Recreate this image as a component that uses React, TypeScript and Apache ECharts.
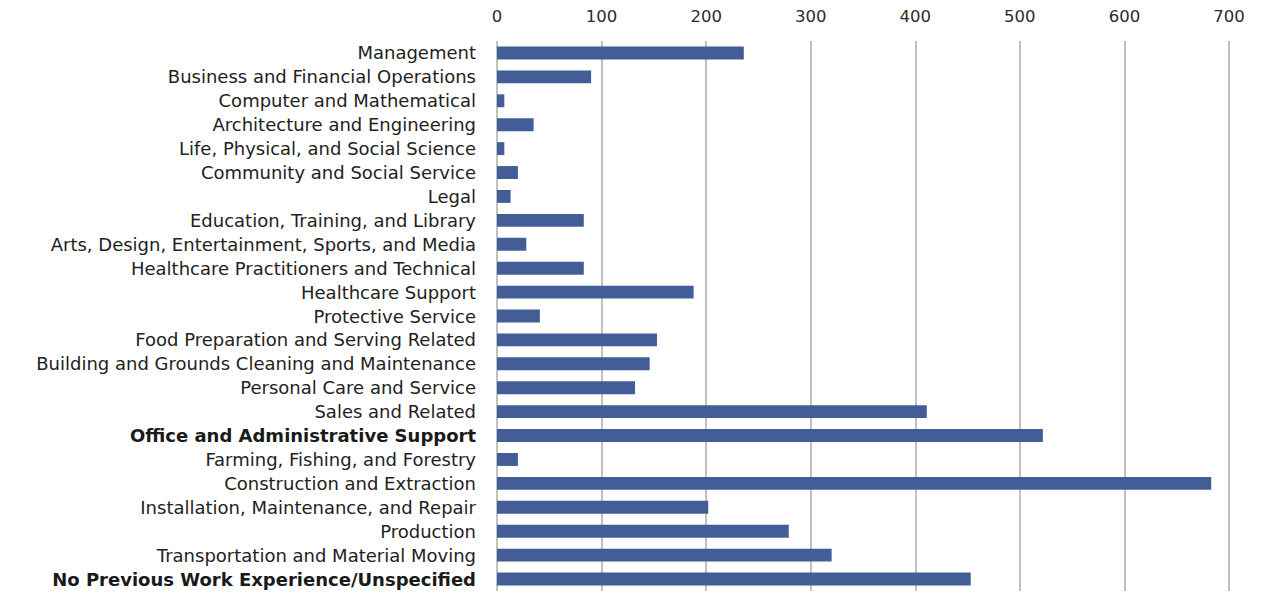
import React, { useEffect, useRef } from "react";
import * as echarts from "echarts";

const categories = [
  "Management",
  "Business and Financial Operations",
  "Computer and Mathematical",
  "Architecture and Engineering",
  "Life, Physical, and Social Science",
  "Community and Social Service",
  "Legal",
  "Education, Training, and Library",
  "Arts, Design, Entertainment, Sports, and Media",
  "Healthcare Practitioners and Technical",
  "Healthcare Support",
  "Protective Service",
  "Food Preparation and Serving Related",
  "Building and Grounds Cleaning and Maintenance",
  "Personal Care and Service",
  "Sales and Related",
  "Office and Administrative Support",
  "Farming, Fishing, and Forestry",
  "Construction and Extraction",
  "Installation, Maintenance, and Repair",
  "Production",
  "Transportation and Material Moving",
  "No Previous Work Experience/Unspecified",
];

const values = [
  236, 90, 7, 35, 7, 20, 13, 83, 28, 83, 188, 41, 153, 146, 132, 411, 522, 20,
  683, 202, 279, 320, 453,
];

const boldCategories = [
  "Office and Administrative Support",
  "No Previous Work Experience/Unspecified",
];

const xTicks = [0, 700, 100];

export default function App() {
  const ref = useRef<HTMLDivElement>(null);
  useEffect(() => {
    if (!ref.current) return;
    const chart = echarts.init(ref.current, null, { renderer: "svg" });
    const font = "'DejaVu Sans', 'Noto Sans', sans-serif";
    const fs = 18;
    chart.setOption({
      animation: false,
      grid: { left: 489, right: 32, top: 33, bottom: 3, containLabel: false },
      xAxis: {
        type: "value",
        position: "top",
        min: xTicks[0],
        max: xTicks[1],
        interval: xTicks[2],
        axisLine: { show: false },
        axisTick: { show: false },
        axisLabel: {
          color: "#2b2b2b",
          fontSize: 16.5,
          fontFamily: font,
          margin: 16,
        },
        splitLine: { show: true, lineStyle: { color: "#adadad", width: 1.5 } },
      },
      yAxis: {
        type: "category",
        inverse: true,
        data: categories,
        axisLine: { show: false },
        axisTick: { show: false },
        axisLabel: {
          interval: 0,
          hideOverlap: false,
          color: "#222222",
          fontSize: fs,
          fontFamily: font,
          margin: 21,
          formatter: (v: string) =>
            boldCategories.includes(v) ? `{b|${v}}` : `{n|${v}}`,
          rich: {
            n: { fontSize: fs, fontFamily: font, color: "#222222" },
            b: {
              fontSize: fs,
              fontFamily: font,
              color: "#1a1a1a",
              fontWeight: 600,
            },
          },
        },
      },
      series: [
        {
          type: "bar",
          data: values,
          barWidth: "54%",
          itemStyle: { color: "#435e97" },
        },
      ],
    });
    return () => chart.dispose();
  }, []);
  return <div ref={ref} style={{ width: 1253, height: 586 }} />;
}
